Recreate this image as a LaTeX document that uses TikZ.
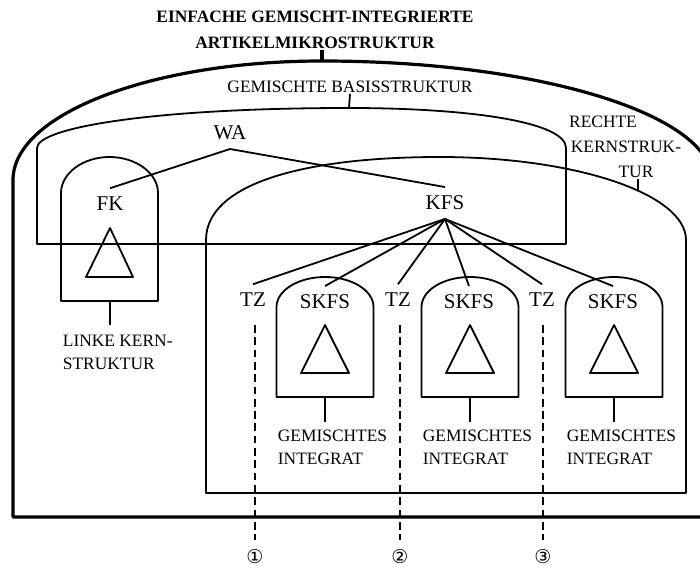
\documentclass[tikz,border=0pt]{standalone}
\usepackage{fontspec}
\setmainfont{Liberation Serif}
\newfontfamily\circfont{DejaVu Sans}
\begin{document}
\begin{tikzpicture}[x=1pt,y=-1pt,
  line width=1.8pt, line join=round,
  heavy/.style={line width=3.2pt},
  big/.style={inner xsep=2pt, inner ysep=8pt, font=\fontsize{21}{25}\selectfont},
  small/.style={inner sep=0pt, font=\fontsize{17.4}{23}\selectfont},
  titletext/.style={inner sep=0pt, align=center, font=\fontsize{17.4}{26}\selectfont\bfseries},
  divider/.style={line width=1.6pt, dash pattern=on 7.7pt off 4.6pt},
  circnum/.style={inner sep=0pt, font=\circfont\fontsize{19}{22}\selectfont}]
\useasboundingbox (0,0) rectangle (700,571);
\clip (0,0) rectangle (700,571);

% ---- title and the enclosing micro-structure outline ----
\node[titletext, anchor=north] (title) at (315,10) {EINFACHE GEMISCHT-INTEGRIERTE\\ARTIKELMIKROSTRUKTUR};
\coordinate (outertop) at (322,61);
\draw[heavy] (13,517) -- (13,180)
  .. controls (13,114.3) and (151.3,61) .. (outertop)
  .. controls (537.4,61) and (712,114.3) .. (712,180)
  -- (712,517) -- cycle;
\draw[heavy] (outertop) -- ++(0,-11);

% ---- mixed base structure ----
\node[small] (basis) at (350,87) {GEMISCHTE BASISSTRUKTUR};
\coordinate (basistop) at (349,108);
\draw (37,244) -- (37,148)
  .. controls (37,128) and (150,108) .. (basistop)
  .. controls (470,108) and (566,122) .. (566,148)
  -- (566,244) -- cycle;
\draw (basistop) -- (basis.south);

% ---- right core structure ----
\node[small] (rk1) at (603,122) {RECHTE};
\node[small] (rk2) at (626,147) {KERNSTRUK-};
\node[small] (rk3) at (636,172) {TUR};
\draw (206,493) -- (206,240)
  .. controls (206,185) and (300,157) .. (440,157)
  .. controls (576,157) and (686,194) .. (686,240)
  -- (686,493) -- cycle;
\coordinate (rktick) at (638,190);
\draw (rktick) -- (rk3.south -| rktick);

% ---- left core structure (FK) ----
\draw (61,301) -- (61,193)
  .. controls (61,173.1) and (83.2,157) .. (109.5,157)
  .. controls (135.8,157) and (158,173.1) .. (158,193)
  -- (158,301) -- cycle;
\draw (110,228) -- (133,277) -- (86,277) -- cycle;
\node[small, anchor=north west, align=left] (lk) at (62,334) {LINKE KERN-\\STRUKTUR};
\coordinate (fkbottom) at (110,301);
\draw (fkbottom) -- ++(0,24);

% ---- nodes of the tree ----
\node[big] (wa) at (230,133) {WA};
\node[big] (fk) at (110,204) {FK};
\node[big] (kfs) at (445,203) {KFS};
\node[big] (tz1) at (253,300) {TZ};
\node[big] (tz2) at (398,300) {TZ};
\node[big] (tz3) at (542,300) {TZ};
\node[big] (sk1) at (325,302) {SKFS};
\node[big] (sk2) at (469,302) {SKFS};
\node[big] (sk3) at (613,302) {SKFS};

\draw (wa.south) -- (fk.north);
\draw (wa.south) -- (kfs.north);
\foreach \t in {tz1,sk1,tz2,sk2,tz3,sk3}
  \draw (kfs.south) -- (\t.north);

% ---- sub-core structures (SKFS) with their integrates ----
\foreach \cx/\i in {325/1,470/2,614/3} {
  \draw (\cx-48.5,397) -- (\cx-48.5,307)
    .. controls (\cx-48.5,290.4) and (\cx-26.8,277) .. (\cx,277)
    .. controls (\cx+26.8,277) and (\cx+48.5,290.4) .. (\cx+48.5,307)
    -- (\cx+48.5,397) -- cycle;
  \draw (\cx,325) -- (\cx+24,373) -- (\cx-24,373) -- cycle;
  \coordinate (skb\i) at (\cx,397);
  \draw (skb\i) -- ++(0,25);
}
\node[small, anchor=north west, align=left] (gi1) at (277,429) {GEMISCHTES\\INTEGRAT};
\node[small, anchor=north west, align=left] (gi2) at (422,429) {GEMISCHTES\\INTEGRAT};
\node[small, anchor=north west, align=left] (gi3) at (566,429) {GEMISCHTES\\INTEGRAT};

% ---- text-segment dividers ----
\node[circnum] (n1) at (255,557) {①};
\node[circnum] (n2) at (400,557) {②};
\node[circnum] (n3) at (543,557) {③};
\coordinate (d1) at (255,325);
\coordinate (d2) at (400,325);
\coordinate (d3) at (543,325);
\draw[divider] (d1) -- (255,540);
\draw[divider] (d2) -- (400,540);
\draw[divider] (d3) -- (543,540);
\end{tikzpicture}
\end{document}
